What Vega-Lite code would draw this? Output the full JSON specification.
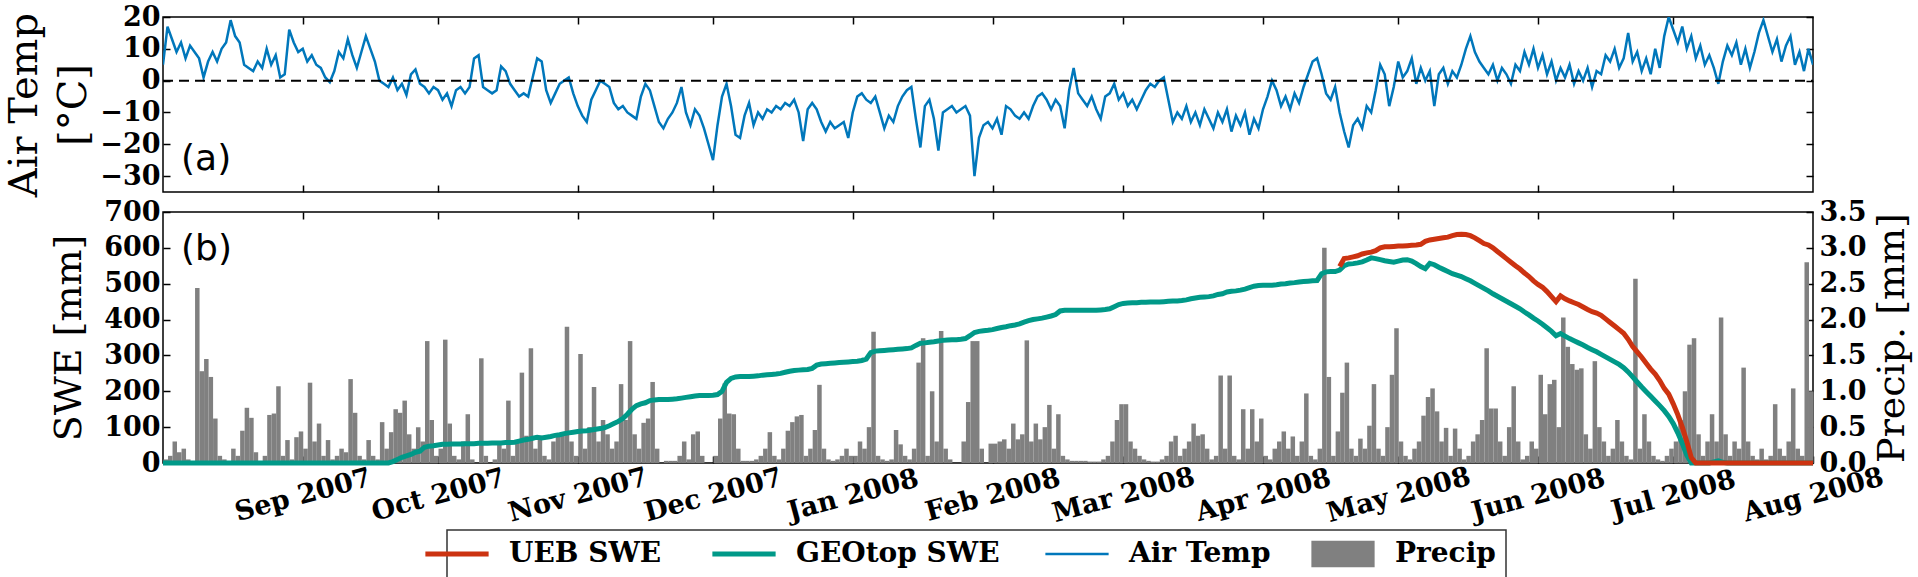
{
"$schema": "https://vega.github.io/schema/vega-lite/v6.json",
"background": "white",
"padding": {"left": 3, "top": 2, "right": 2, "bottom": 1},
"bounds": "flush",
"spacing": 20,
"config": {
  "view": {"stroke": "black", "strokeWidth": 1.5},
  "axis": {"domain": false, "grid": false, "ticks": true, "tickSize": -7, "tickWidth": 1.5, "tickColor": "black",
    "labelFont": "DejaVu Serif", "labelFontWeight": "bold", "labelFontSize": 27, "labelColor": "black", "labelPadding": 10,
    "titleFont": "DejaVu Serif", "titleFontWeight": "normal", "titleFontSize": 38, "titleColor": "black", "titlePadding": 10}
},
"datasets": {"day": [
{"d":"2007-08-01","t":5,"p":0.05,"g":0},{"d":"2007-08-02","t":17,"p":0.1,"g":0},{"d":"2007-08-03","t":13,"p":0.3,"g":0},{"d":"2007-08-04","t":9,"p":0.15,"g":0},{"d":"2007-08-05","t":12,"p":0.2,"g":0},{"d":"2007-08-06","t":7,"p":0.05,"g":0},{"d":"2007-08-07","t":11,"p":0,"g":0},{"d":"2007-08-08","t":9,"p":2.44,"g":0},{"d":"2007-08-09","t":7,"p":1.28,"g":0},{"d":"2007-08-10","t":1,"p":1.45,"g":0},{"d":"2007-08-11","t":6,"p":1.2,"g":0},{"d":"2007-08-12","t":9,"p":0.62,"g":0},{"d":"2007-08-13","t":6,"p":0.1,"g":0},{"d":"2007-08-14","t":10,"p":0.05,"g":0},{"d":"2007-08-15","t":12,"p":0,"g":0},{"d":"2007-08-16","t":19,"p":0.2,"g":0},{"d":"2007-08-17","t":14,"p":0.1,"g":0},{"d":"2007-08-18","t":12,"p":0.45,"g":0},{"d":"2007-08-19","t":5,"p":0.77,"g":0},{"d":"2007-08-20","t":4,"p":0.63,"g":0},{"d":"2007-08-21","t":3,"p":0.15,"g":0},{"d":"2007-08-22","t":6,"p":0,"g":0},{"d":"2007-08-23","t":4,"p":0.1,"g":0},{"d":"2007-08-24","t":10,"p":0.67,"g":0},{"d":"2007-08-25","t":5,"p":0.69,"g":0},{"d":"2007-08-26","t":8,"p":1.07,"g":0},{"d":"2007-08-27","t":1,"p":0.1,"g":0},{"d":"2007-08-28","t":2,"p":0.32,"g":0},{"d":"2007-08-29","t":16,"p":0.05,"g":0},{"d":"2007-08-30","t":12,"p":0.36,"g":0},{"d":"2007-08-31","t":9,"p":0.44,"g":0},
{"d":"2007-09-01","t":10,"p":0.2,"g":0},{"d":"2007-09-02","t":6,"p":1.12,"g":0},{"d":"2007-09-03","t":8,"p":0.3,"g":0},{"d":"2007-09-04","t":5,"p":0.55,"g":0},{"d":"2007-09-05","t":4,"p":0.1,"g":0},{"d":"2007-09-06","t":1,"p":0.32,"g":0},{"d":"2007-09-07","t":-0.5,"p":0.05,"g":0},{"d":"2007-09-08","t":3,"p":0.1,"g":0},{"d":"2007-09-09","t":9,"p":0.2,"g":0},{"d":"2007-09-10","t":7,"p":0.15,"g":0},{"d":"2007-09-11","t":13,"p":1.17,"g":0},{"d":"2007-09-12","t":8,"p":0.7,"g":0},{"d":"2007-09-13","t":4,"p":0.1,"g":0},{"d":"2007-09-14","t":9,"p":0.05,"g":0},{"d":"2007-09-15","t":14,"p":0.32,"g":0},{"d":"2007-09-16","t":10,"p":0.1,"g":0},{"d":"2007-09-17","t":6,"p":0.05,"g":0},{"d":"2007-09-18","t":0,"p":0.57,"g":0},{"d":"2007-09-19","t":-1,"p":0.2,"g":0},{"d":"2007-09-20","t":-2,"p":0.43,"g":0},{"d":"2007-09-21","t":1,"p":0.75,"g":4},{"d":"2007-09-22","t":-3,"p":0.7,"g":10},{"d":"2007-09-23","t":-1,"p":0.87,"g":16},{"d":"2007-09-24","t":-4.5,"p":0.4,"g":20},{"d":"2007-09-25","t":2,"p":0.2,"g":24},{"d":"2007-09-26","t":3.5,"p":0.5,"g":30},{"d":"2007-09-27","t":-1,"p":0.3,"g":33},{"d":"2007-09-28","t":-2,"p":1.7,"g":44},{"d":"2007-09-29","t":-4,"p":0.6,"g":47},{"d":"2007-09-30","t":-2,"p":0.1,"g":48},
{"d":"2007-10-01","t":-3,"p":0.2,"g":50},{"d":"2007-10-02","t":-6,"p":1.72,"g":52},{"d":"2007-10-03","t":-4,"p":0.55,"g":52},{"d":"2007-10-04","t":-8,"p":0.1,"g":53},{"d":"2007-10-05","t":-3,"p":0.05,"g":53},{"d":"2007-10-06","t":-2,"p":0.3,"g":53},{"d":"2007-10-07","t":-4,"p":0.68,"g":54},{"d":"2007-10-08","t":-2,"p":0.05,"g":54},{"d":"2007-10-09","t":7,"p":0,"g":54},{"d":"2007-10-10","t":8,"p":1.46,"g":55},{"d":"2007-10-11","t":-2,"p":0.1,"g":55},{"d":"2007-10-12","t":-3,"p":0,"g":55},{"d":"2007-10-13","t":-4,"p":0.05,"g":56},{"d":"2007-10-14","t":-3,"p":0.3,"g":56},{"d":"2007-10-15","t":4.5,"p":0.2,"g":56},{"d":"2007-10-16","t":3,"p":0.87,"g":57},{"d":"2007-10-17","t":-1,"p":0.1,"g":57},{"d":"2007-10-18","t":-3,"p":0.3,"g":58},{"d":"2007-10-19","t":-5,"p":1.26,"g":61},{"d":"2007-10-20","t":-4,"p":0.38,"g":64},{"d":"2007-10-21","t":-5,"p":1.6,"g":66},{"d":"2007-10-22","t":1,"p":0.2,"g":69},{"d":"2007-10-23","t":7,"p":0.38,"g":72},{"d":"2007-10-24","t":6,"p":0.1,"g":70},{"d":"2007-10-25","t":-3,"p":0.05,"g":72},{"d":"2007-10-26","t":-7,"p":0.3,"g":74},{"d":"2007-10-27","t":-4,"p":0.4,"g":77},{"d":"2007-10-28","t":-1,"p":0.4,"g":79},{"d":"2007-10-29","t":0,"p":1.9,"g":82},{"d":"2007-10-30","t":1,"p":0.3,"g":84},{"d":"2007-10-31","t":-4,"p":0.1,"g":86},
{"d":"2007-11-01","t":-8,"p":1.52,"g":88},{"d":"2007-11-02","t":-11,"p":0.2,"g":89},{"d":"2007-11-03","t":-13,"p":0.5,"g":90},{"d":"2007-11-04","t":-6,"p":1.06,"g":92},{"d":"2007-11-05","t":-3,"p":0.3,"g":94},{"d":"2007-11-06","t":0,"p":0.6,"g":96},{"d":"2007-11-07","t":-1,"p":0.4,"g":99},{"d":"2007-11-08","t":-2,"p":0.2,"g":104},{"d":"2007-11-09","t":-7,"p":0.3,"g":110},{"d":"2007-11-10","t":-9,"p":1.1,"g":116},{"d":"2007-11-11","t":-8,"p":0.6,"g":124},{"d":"2007-11-12","t":-10,"p":1.7,"g":136},{"d":"2007-11-13","t":-11,"p":0.4,"g":150},{"d":"2007-11-14","t":-12,"p":0.2,"g":160},{"d":"2007-11-15","t":-5,"p":0.56,"g":165},{"d":"2007-11-16","t":-1,"p":0.62,"g":168},{"d":"2007-11-17","t":-3,"p":1.13,"g":174},{"d":"2007-11-18","t":-8,"p":0.2,"g":176},{"d":"2007-11-19","t":-13,"p":0,"g":177},{"d":"2007-11-20","t":-15,"p":0.03,"g":177},{"d":"2007-11-21","t":-12,"p":0.03,"g":177},{"d":"2007-11-22","t":-10,"p":0.03,"g":178},{"d":"2007-11-23","t":-7,"p":0.1,"g":179},{"d":"2007-11-24","t":-2,"p":0.3,"g":181},{"d":"2007-11-25","t":-10,"p":0.05,"g":183},{"d":"2007-11-26","t":-14,"p":0.4,"g":185},{"d":"2007-11-27","t":-9,"p":0.44,"g":187},{"d":"2007-11-28","t":-11,"p":0.1,"g":188},{"d":"2007-11-29","t":-15,"p":0,"g":188},{"d":"2007-11-30","t":-20,"p":0,"g":188},
{"d":"2007-12-01","t":-25,"p":0.1,"g":189},{"d":"2007-12-02","t":-14,"p":0.62,"g":191},{"d":"2007-12-03","t":-5,"p":1.11,"g":200},{"d":"2007-12-04","t":-1,"p":0.69,"g":225},{"d":"2007-12-05","t":-8,"p":0.68,"g":236},{"d":"2007-12-06","t":-17,"p":0.2,"g":240},{"d":"2007-12-07","t":-18,"p":0.03,"g":241},{"d":"2007-12-08","t":-11,"p":0.03,"g":241},{"d":"2007-12-09","t":-7,"p":0.03,"g":241},{"d":"2007-12-10","t":-14,"p":0.05,"g":242},{"d":"2007-12-11","t":-10,"p":0.1,"g":243},{"d":"2007-12-12","t":-12,"p":0.2,"g":245},{"d":"2007-12-13","t":-9,"p":0.43,"g":246},{"d":"2007-12-14","t":-10,"p":0.1,"g":247},{"d":"2007-12-15","t":-8,"p":0.05,"g":248},{"d":"2007-12-16","t":-9,"p":0.2,"g":250},{"d":"2007-12-17","t":-7,"p":0.45,"g":253},{"d":"2007-12-18","t":-8,"p":0.57,"g":256},{"d":"2007-12-19","t":-6,"p":0.65,"g":258},{"d":"2007-12-20","t":-10,"p":0.67,"g":259},{"d":"2007-12-21","t":-19,"p":0.1,"g":260},{"d":"2007-12-22","t":-9,"p":0.2,"g":261},{"d":"2007-12-23","t":-7,"p":0.46,"g":264},{"d":"2007-12-24","t":-9,"p":1.09,"g":273},{"d":"2007-12-25","t":-13,"p":0.2,"g":276},{"d":"2007-12-26","t":-16,"p":0.05,"g":277},{"d":"2007-12-27","t":-13,"p":0.03,"g":278},{"d":"2007-12-28","t":-15,"p":0.05,"g":279},{"d":"2007-12-29","t":-14,"p":0.1,"g":280},{"d":"2007-12-30","t":-13,"p":0.2,"g":281},{"d":"2007-12-31","t":-18,"p":0.1,"g":282},
{"d":"2008-01-01","t":-10,"p":0.1,"g":283},{"d":"2008-01-02","t":-5,"p":0.3,"g":284},{"d":"2008-01-03","t":-4,"p":0.2,"g":286},{"d":"2008-01-04","t":-6,"p":0.5,"g":290},{"d":"2008-01-05","t":-7,"p":1.83,"g":308},{"d":"2008-01-06","t":-5,"p":0.1,"g":312},{"d":"2008-01-07","t":-10,"p":0.05,"g":313},{"d":"2008-01-08","t":-15,"p":0.03,"g":314},{"d":"2008-01-09","t":-11,"p":0.05,"g":315},{"d":"2008-01-10","t":-13,"p":0.46,"g":316},{"d":"2008-01-11","t":-8,"p":0.26,"g":317},{"d":"2008-01-12","t":-5,"p":0.1,"g":318},{"d":"2008-01-13","t":-3,"p":0.05,"g":319},{"d":"2008-01-14","t":-2,"p":0.2,"g":321},{"d":"2008-01-15","t":-12,"p":1.4,"g":328},{"d":"2008-01-16","t":-21,"p":1.74,"g":334},{"d":"2008-01-17","t":-8,"p":0.1,"g":335},{"d":"2008-01-18","t":-6,"p":1.0,"g":337},{"d":"2008-01-19","t":-12,"p":0.3,"g":338},{"d":"2008-01-20","t":-22,"p":1.84,"g":340},{"d":"2008-01-21","t":-10,"p":0.2,"g":342},{"d":"2008-01-22","t":-9,"p":0.05,"g":343},{"d":"2008-01-23","t":-8,"p":0,"g":344},{"d":"2008-01-24","t":-10,"p":0,"g":344},{"d":"2008-01-25","t":-9,"p":0.3,"g":345},{"d":"2008-01-26","t":-8,"p":0.85,"g":347},{"d":"2008-01-27","t":-11,"p":1.7,"g":355},{"d":"2008-01-28","t":-30,"p":1.7,"g":364},{"d":"2008-01-29","t":-18,"p":0.2,"g":367},{"d":"2008-01-30","t":-14,"p":0,"g":369},{"d":"2008-01-31","t":-13,"p":0.27,"g":370},
{"d":"2008-02-01","t":-15,"p":0.27,"g":372},{"d":"2008-02-02","t":-12,"p":0.3,"g":375},{"d":"2008-02-03","t":-17,"p":0.33,"g":378},{"d":"2008-02-04","t":-8,"p":0.2,"g":380},{"d":"2008-02-05","t":-9,"p":0.55,"g":383},{"d":"2008-02-06","t":-11,"p":0.33,"g":385},{"d":"2008-02-07","t":-12,"p":0.4,"g":388},{"d":"2008-02-08","t":-10,"p":1.71,"g":393},{"d":"2008-02-09","t":-12,"p":0.3,"g":397},{"d":"2008-02-10","t":-8,"p":0.55,"g":400},{"d":"2008-02-11","t":-5,"p":0.33,"g":402},{"d":"2008-02-12","t":-4,"p":0.5,"g":404},{"d":"2008-02-13","t":-6,"p":0.81,"g":407},{"d":"2008-02-14","t":-9,"p":0.2,"g":410},{"d":"2008-02-15","t":-6,"p":0.68,"g":414},{"d":"2008-02-16","t":-8,"p":0.1,"g":424},{"d":"2008-02-17","t":-15,"p":0.05,"g":426},{"d":"2008-02-18","t":-3,"p":0.03,"g":426},{"d":"2008-02-19","t":4,"p":0.03,"g":426},{"d":"2008-02-20","t":-4,"p":0.03,"g":426},{"d":"2008-02-21","t":-6,"p":0.03,"g":426},{"d":"2008-02-22","t":-8,"p":0.02,"g":426},{"d":"2008-02-23","t":-5,"p":0.02,"g":426},{"d":"2008-02-24","t":-9,"p":0.02,"g":426},{"d":"2008-02-25","t":-12,"p":0.05,"g":427},{"d":"2008-02-26","t":-5,"p":0.1,"g":428},{"d":"2008-02-27","t":-4,"p":0.3,"g":430},{"d":"2008-02-28","t":-1,"p":0.6,"g":436},{"d":"2008-02-29","t":-6,"p":0.82,"g":442},
{"d":"2008-03-01","t":-4,"p":0.82,"g":445},{"d":"2008-03-02","t":-8,"p":0.3,"g":446},{"d":"2008-03-03","t":-6,"p":0.2,"g":447},{"d":"2008-03-04","t":-9,"p":0.1,"g":447},{"d":"2008-03-05","t":-6,"p":0.05,"g":448},{"d":"2008-03-06","t":-3,"p":0.03,"g":448},{"d":"2008-03-07","t":-1,"p":0.02,"g":449},{"d":"2008-03-08","t":-2,"p":0.02,"g":449},{"d":"2008-03-09","t":0,"p":0.05,"g":449},{"d":"2008-03-10","t":1,"p":0.1,"g":450},{"d":"2008-03-11","t":-6,"p":0.3,"g":451},{"d":"2008-03-12","t":-13,"p":0.38,"g":452},{"d":"2008-03-13","t":-10,"p":0.1,"g":452},{"d":"2008-03-14","t":-12,"p":0.2,"g":453},{"d":"2008-03-15","t":-8,"p":0.3,"g":455},{"d":"2008-03-16","t":-13,"p":0.55,"g":458},{"d":"2008-03-17","t":-10,"p":0.38,"g":460},{"d":"2008-03-18","t":-14,"p":0.4,"g":462},{"d":"2008-03-19","t":-9,"p":0.2,"g":463},{"d":"2008-03-20","t":-12,"p":0.05,"g":464},{"d":"2008-03-21","t":-15,"p":0.1,"g":466},{"d":"2008-03-22","t":-10,"p":1.22,"g":470},{"d":"2008-03-23","t":-13,"p":0.2,"g":472},{"d":"2008-03-24","t":-9,"p":1.22,"g":477},{"d":"2008-03-25","t":-16,"p":0.1,"g":479},{"d":"2008-03-26","t":-11,"p":0.05,"g":480},{"d":"2008-03-27","t":-14,"p":0.75,"g":482},{"d":"2008-03-28","t":-10,"p":0.2,"g":485},{"d":"2008-03-29","t":-17,"p":0.75,"g":489},{"d":"2008-03-30","t":-12,"p":0.3,"g":493},{"d":"2008-03-31","t":-15,"p":0.62,"g":495},
{"d":"2008-04-01","t":-9,"p":0.1,"g":496},{"d":"2008-04-02","t":-5,"p":0.05,"g":496},{"d":"2008-04-03","t":0,"p":0.2,"g":496},{"d":"2008-04-04","t":-3,"p":0.3,"g":497},{"d":"2008-04-05","t":-8,"p":0.44,"g":499},{"d":"2008-04-06","t":-5,"p":0.2,"g":500},{"d":"2008-04-07","t":-9,"p":0.37,"g":502},{"d":"2008-04-08","t":-4,"p":0.1,"g":503},{"d":"2008-04-09","t":-7,"p":0.3,"g":505},{"d":"2008-04-10","t":-2,"p":0.97,"g":506},{"d":"2008-04-11","t":2,"p":0.1,"g":507},{"d":"2008-04-12","t":6,"p":0.05,"g":508},{"d":"2008-04-13","t":7,"p":0.2,"g":509},{"d":"2008-04-14","t":2,"p":3.0,"g":528},{"d":"2008-04-15","t":-4,"p":1.2,"g":533},{"d":"2008-04-16","t":-6,"p":0.1,"g":534},{"d":"2008-04-17","t":-2,"p":0.44,"g":534},{"d":"2008-04-18","t":-10,"p":0.98,"g":538,"u":548},{"d":"2008-04-19","t":-16,"p":1.4,"g":550,"u":570},{"d":"2008-04-20","t":-21,"p":0.2,"g":555,"u":572},{"d":"2008-04-21","t":-14,"p":0.1,"g":556,"u":575},{"d":"2008-04-22","t":-12,"p":0.34,"g":558,"u":578},{"d":"2008-04-23","t":-15,"p":0.2,"g":561,"u":583},{"d":"2008-04-24","t":-8,"p":0.52,"g":566,"u":586},{"d":"2008-04-25","t":-10,"p":1.1,"g":572,"u":588},{"d":"2008-04-26","t":-3,"p":0.2,"g":570,"u":592},{"d":"2008-04-27","t":5,"p":0.1,"g":567,"u":600},{"d":"2008-04-28","t":2,"p":0.5,"g":564,"u":603},{"d":"2008-04-29","t":-8,"p":1.23,"g":562,"u":603},{"d":"2008-04-30","t":-2,"p":1.88,"g":560,"u":604},
{"d":"2008-05-01","t":6,"p":0.3,"g":563,"u":605},{"d":"2008-05-02","t":1,"p":0.1,"g":566,"u":605},{"d":"2008-05-03","t":3,"p":0.05,"g":567,"u":606},{"d":"2008-05-04","t":7,"p":0.2,"g":563,"u":607},{"d":"2008-05-05","t":-1,"p":0.3,"g":556,"u":608},{"d":"2008-05-06","t":4,"p":0.66,"g":548,"u":610},{"d":"2008-05-07","t":0,"p":0.92,"g":542,"u":618},{"d":"2008-05-08","t":3,"p":1.04,"g":557,"u":622},{"d":"2008-05-09","t":-8,"p":0.72,"g":553,"u":624},{"d":"2008-05-10","t":2,"p":0.3,"g":546,"u":626},{"d":"2008-05-11","t":4,"p":0.49,"g":540,"u":628},{"d":"2008-05-12","t":-1,"p":0.1,"g":534,"u":630},{"d":"2008-05-13","t":3,"p":0.48,"g":528,"u":634},{"d":"2008-05-14","t":1,"p":0.2,"g":524,"u":637},{"d":"2008-05-15","t":5,"p":0.05,"g":520,"u":638},{"d":"2008-05-16","t":10,"p":0.1,"g":514,"u":637},{"d":"2008-05-17","t":14,"p":0.3,"g":508,"u":634},{"d":"2008-05-18","t":9,"p":0.4,"g":501,"u":628},{"d":"2008-05-19","t":6,"p":0.6,"g":494,"u":620},{"d":"2008-05-20","t":4,"p":1.6,"g":487,"u":612},{"d":"2008-05-21","t":2,"p":0.76,"g":480,"u":608},{"d":"2008-05-22","t":5,"p":0.76,"g":472,"u":600},{"d":"2008-05-23","t":0,"p":0.3,"g":465,"u":590},{"d":"2008-05-24","t":4,"p":0.1,"g":458,"u":580},{"d":"2008-05-25","t":2,"p":0.5,"g":451,"u":570},{"d":"2008-05-26","t":-1,"p":1.07,"g":444,"u":560},{"d":"2008-05-27","t":5,"p":0.3,"g":437,"u":550},{"d":"2008-05-28","t":3,"p":0.05,"g":430,"u":541},{"d":"2008-05-29","t":9,"p":0.1,"g":421,"u":530},{"d":"2008-05-30","t":5,"p":0.3,"g":413,"u":520},{"d":"2008-05-31","t":10,"p":0.2,"g":404,"u":508},
{"d":"2008-06-01","t":4,"p":1.23,"g":396,"u":498},{"d":"2008-06-02","t":8,"p":0.68,"g":387,"u":490},{"d":"2008-06-03","t":2,"p":1.1,"g":377,"u":478},{"d":"2008-06-04","t":6,"p":1.16,"g":367,"u":464},{"d":"2008-06-05","t":0,"p":0.5,"g":355,"u":450},{"d":"2008-06-06","t":4,"p":2.03,"g":361,"u":466},{"d":"2008-06-07","t":1,"p":1.62,"g":354,"u":458},{"d":"2008-06-08","t":5,"p":1.38,"g":347,"u":452},{"d":"2008-06-09","t":-1,"p":1.3,"g":341,"u":447},{"d":"2008-06-10","t":3,"p":1.32,"g":335,"u":442},{"d":"2008-06-11","t":0,"p":0.4,"g":329,"u":435},{"d":"2008-06-12","t":4,"p":0.2,"g":322,"u":428},{"d":"2008-06-13","t":-2,"p":1.42,"g":316,"u":422},{"d":"2008-06-14","t":3,"p":0.5,"g":310,"u":418},{"d":"2008-06-15","t":2,"p":0.3,"g":303,"u":412},{"d":"2008-06-16","t":8,"p":0.1,"g":296,"u":402},{"d":"2008-06-17","t":6,"p":0.2,"g":289,"u":392},{"d":"2008-06-18","t":10,"p":0.6,"g":282,"u":382},{"d":"2008-06-19","t":4,"p":0.3,"g":275,"u":372},{"d":"2008-06-20","t":7,"p":0.1,"g":266,"u":362},{"d":"2008-06-21","t":15,"p":0.05,"g":254,"u":345},{"d":"2008-06-22","t":6,"p":2.57,"g":240,"u":325},{"d":"2008-06-23","t":9,"p":0.2,"g":226,"u":310},{"d":"2008-06-24","t":3,"p":0.68,"g":212,"u":295},{"d":"2008-06-25","t":7,"p":0.3,"g":199,"u":278},{"d":"2008-06-26","t":2,"p":0.1,"g":186,"u":262},{"d":"2008-06-27","t":10,"p":0.05,"g":173,"u":248},{"d":"2008-06-28","t":4,"p":0.03,"g":160,"u":230},{"d":"2008-06-29","t":14,"p":0.1,"g":146,"u":208},{"d":"2008-06-30","t":20,"p":0.2,"g":130,"u":192},
{"d":"2008-07-01","t":16,"p":0.3,"g":110,"u":165},{"d":"2008-07-02","t":12,"p":0.6,"g":84,"u":135},{"d":"2008-07-03","t":17,"p":1.0,"g":55,"u":100},{"d":"2008-07-04","t":10,"p":1.65,"g":22,"u":60},{"d":"2008-07-05","t":14,"p":1.74,"g":0,"u":15},{"d":"2008-07-06","t":7,"p":0.4,"g":0,"u":0},{"d":"2008-07-07","t":11,"p":0.1,"g":0,"u":0},{"d":"2008-07-08","t":5,"p":0.3,"g":0,"u":0},{"d":"2008-07-09","t":8,"p":0.68,"g":0,"u":0},{"d":"2008-07-10","t":4,"p":0.3,"g":3,"u":0},{"d":"2008-07-11","t":-1,"p":2.03,"g":6,"u":0},{"d":"2008-07-12","t":6,"p":0.4,"g":2,"u":0},{"d":"2008-07-13","t":11,"p":0.1,"g":0,"u":0},{"d":"2008-07-14","t":8,"p":0.3,"g":0,"u":0},{"d":"2008-07-15","t":12,"p":0.2,"g":0,"u":0},{"d":"2008-07-16","t":5,"p":1.33,"g":0,"u":0},{"d":"2008-07-17","t":10,"p":0.3,"g":0,"u":0},{"d":"2008-07-18","t":4,"p":0.1,"g":0,"u":0},{"d":"2008-07-19","t":9,"p":0.05,"g":0,"u":0},{"d":"2008-07-20","t":15,"p":0.2,"g":0,"u":0},{"d":"2008-07-21","t":19,"p":0.05,"g":0,"u":0},{"d":"2008-07-22","t":14,"p":0.1,"g":0,"u":0},{"d":"2008-07-23","t":9,"p":0.82,"g":0,"u":0},{"d":"2008-07-24","t":13,"p":0.2,"g":0,"u":0},{"d":"2008-07-25","t":6,"p":0.1,"g":0,"u":0},{"d":"2008-07-26","t":11,"p":0.3,"g":0,"u":0},{"d":"2008-07-27","t":14,"p":1.04,"g":0,"u":0},{"d":"2008-07-28","t":5,"p":0.2,"g":0,"u":0},{"d":"2008-07-29","t":9,"p":0.1,"g":0,"u":0},{"d":"2008-07-30","t":3,"p":2.8,"g":0,"u":0},{"d":"2008-07-31","t":10,"p":1.0,"g":0,"u":0},
{"d":"2008-08-01","t":5,"p":0,"g":0,"u":0}
]},
"vconcat": [
 {
  "width": 1650, "height": 175,
  "layer": [
   {
    "data": {"name": "day"},
    "mark": {"type": "line", "strokeWidth": 2.5, "clip": true},
    "encoding": {
     "x": {"field": "d", "type": "temporal",
       "scale": {"domain": [{"year":2007,"month":8,"date":1},{"year":2008,"month":8,"date":1}]},
       "axis": {"orient": "bottom", "labels": false, "title": null,
         "values": [{"year":2007,"month":9,"date":1},{"year":2007,"month":10,"date":1},{"year":2007,"month":11,"date":1},{"year":2007,"month":12,"date":1},{"year":2008,"month":1,"date":1},{"year":2008,"month":2,"date":1},{"year":2008,"month":3,"date":1},{"year":2008,"month":4,"date":1},{"year":2008,"month":5,"date":1},{"year":2008,"month":6,"date":1},{"year":2008,"month":7,"date":1}]}},
     "y": {"field": "t", "type": "quantitative",
       "scale": {"domain": [-35, 20], "nice": false, "zero": false},
       "axis": {"orient": "left", "values": [-30, -20, -10, 0, 10, 20], "title": ["Air Temp", "[°C]"], "titleFontSize": 40, "titleLineHeight": 49, "titleX": -119, "titleY": 87.5}},
     "color": {"datum": "t", "type": "nominal",
       "scale": {"domain": ["u", "g", "t", "p"], "range": ["#cc3311", "#009988", "#0077bb", "#808080"]}}
    }
   },
   {
    "data": {"values": [{}]},
    "mark": {"type": "rule", "strokeDash": [10, 6], "strokeWidth": 2, "color": "black"},
    "encoding": {
     "y": {"datum": 0, "type": "quantitative",
       "axis": {"orient": "right", "labels": false, "title": null, "values": [-30, -20, -10, 0, 10, 20]}},
     "x": {"datum": {"year":2007,"month":8,"date":1}, "type": "temporal",
       "axis": {"orient": "top", "labels": false, "title": null,
         "values": [{"year":2007,"month":9,"date":1},{"year":2007,"month":10,"date":1},{"year":2007,"month":11,"date":1},{"year":2007,"month":12,"date":1},{"year":2008,"month":1,"date":1},{"year":2008,"month":2,"date":1},{"year":2008,"month":3,"date":1},{"year":2008,"month":4,"date":1},{"year":2008,"month":5,"date":1},{"year":2008,"month":6,"date":1},{"year":2008,"month":7,"date":1}]}},
     "x2": {"datum": {"year":2008,"month":8,"date":1}}
    }
   },
   {
    "data": {"values": [{"d": "2007-08-05", "v": -24.5, "lab": "(a)"}]},
    "mark": {"type": "text", "align": "left", "baseline": "middle", "font": "DejaVu Sans", "fontSize": 36, "color": "black"},
    "encoding": {
     "x": {"field": "d", "type": "temporal", "axis": null},
     "y": {"field": "v", "type": "quantitative", "axis": null},
     "text": {"field": "lab"}
    }
   }
  ],
  "resolve": {"axis": {"x": "independent", "y": "independent"}}
 },
 {
  "width": 1650, "height": 251,
  "layer": [
   {
    "data": {"name": "day"},
    "mark": {"type": "bar", "binSpacing": 0},
    "encoding": {
     "x": {"field": "d", "type": "temporal", "timeUnit": "yearmonthdate",
       "scale": {"domain": [{"year":2007,"month":8,"date":1},{"year":2008,"month":8,"date":1}]},
       "axis": {"orient": "top", "labels": false, "title": null,
         "values": [{"year":2007,"month":9,"date":1},{"year":2007,"month":10,"date":1},{"year":2007,"month":11,"date":1},{"year":2007,"month":12,"date":1},{"year":2008,"month":1,"date":1},{"year":2008,"month":2,"date":1},{"year":2008,"month":3,"date":1},{"year":2008,"month":4,"date":1},{"year":2008,"month":5,"date":1},{"year":2008,"month":6,"date":1},{"year":2008,"month":7,"date":1}]}},
     "y": {"field": "p", "type": "quantitative",
       "scale": {"domain": [0, 3.5], "nice": false},
       "axis": {"orient": "right", "values": [0, 0.5, 1, 1.5, 2, 2.5, 3, 3.5], "format": ".1f", "labelPadding": 13,
         "title": "Precip. [mm]", "titleAngle": 270, "titleBaseline": "top", "titlePadding": 8}},
     "color": {"datum": "p", "type": "nominal",
       "scale": {"domain": ["u", "g", "t", "p"], "range": ["#cc3311", "#009988", "#0077bb", "#808080"]}}
    }
   },
   {
    "data": {"name": "day"},
    "transform": [{"fold": ["g", "u"], "as": ["s", "v"]}],
    "mark": {"type": "line", "strokeWidth": 5},
    "encoding": {
     "x": {"field": "d", "type": "temporal",
       "scale": {"domain": [{"year":2007,"month":8,"date":1},{"year":2008,"month":8,"date":1}]},
       "axis": {"orient": "bottom", "title": null, "format": "%b %Y",
         "labelAngle": -15, "labelAlign": "center", "labelBaseline": "middle", "labelPadding": 39,
         "labelFlush": false, "labelOverlap": false, "labelBound": false,
         "values": [{"year":2007,"month":9,"date":1},{"year":2007,"month":10,"date":1},{"year":2007,"month":11,"date":1},{"year":2007,"month":12,"date":1},{"year":2008,"month":1,"date":1},{"year":2008,"month":2,"date":1},{"year":2008,"month":3,"date":1},{"year":2008,"month":4,"date":1},{"year":2008,"month":5,"date":1},{"year":2008,"month":6,"date":1},{"year":2008,"month":7,"date":1},{"year":2008,"month":8,"date":1}]}},
     "y": {"field": "v", "type": "quantitative",
       "scale": {"domain": [0, 700], "nice": false},
       "axis": {"orient": "left", "values": [0, 100, 200, 300, 400, 500, 600, 700], "title": "SWE [mm]", "titleX": -75, "titleY": 125.5}},
     "color": {"field": "s", "type": "nominal",
       "scale": {"domain": ["u", "g", "t", "p"], "range": ["#cc3311", "#009988", "#0077bb", "#808080"]},
       "legend": {
         "title": null, "orient": "none", "legendX": 284, "legendY": 513, "direction": "horizontal",
         "labelExpr": "datum.label == 'u' ? 'UEB SWE' : datum.label == 'g' ? 'GEOtop SWE' : datum.label == 't' ? 'Air Temp' : 'Precip'",
         "labelFont": "DejaVu Serif", "labelFontWeight": "bold", "labelFontSize": 28, "labelColor": "black", "labelLimit": 500,
         "symbolSize": 4000, "symbolOffset": -14, "labelOffset": 38, "columnPadding": 40, "padding": 10,
         "strokeColor": "#333333", "fillColor": "white",
         "encode": {
           "symbols": {"update": {
             "shape": {"signal": "datum.value == 'p' ? 'M-1,-0.42H1V0.42H-1Z' : 'stroke'"},
             "strokeWidth": {"signal": "datum.value == 'p' ? 0 : datum.value == 't' ? 2.5 : 5"},
             "fill": {"signal": "datum.value == 'p' ? '#808080' : 'transparent'"},
             "stroke": {"signal": "scale('color', datum.value)"},
             "opacity": {"value": 1}
           }},
           "legend": {"update": {"strokeWidth": {"value": 1.5}}}
         }
       }}
    }
   },
   {
    "data": {"values": [{"d": "2007-08-05", "v": 597, "lab": "(b)"}]},
    "mark": {"type": "text", "align": "left", "baseline": "middle", "font": "DejaVu Sans", "fontSize": 36, "color": "black"},
    "encoding": {
     "x": {"field": "d", "type": "temporal", "axis": null},
     "y": {"field": "v", "type": "quantitative", "axis": null, "scale": {"domain": [0, 700], "nice": false}},
     "text": {"field": "lab"}
    }
   }
  ],
  "resolve": {"scale": {"y": "independent"}, "axis": {"x": "independent", "y": "independent"}}
 }
]
}
